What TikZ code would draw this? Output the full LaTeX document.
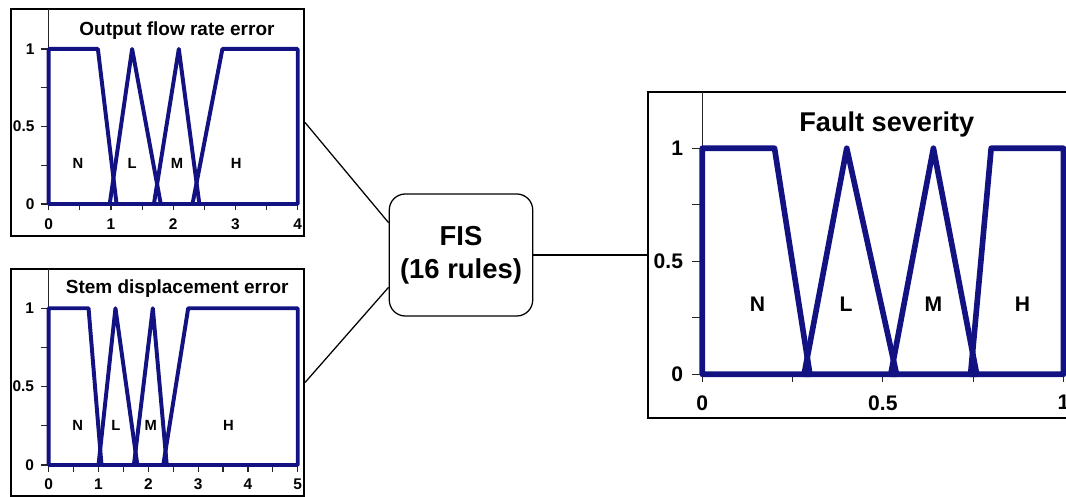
\documentclass[tikz,border=0pt]{standalone}
\usepackage{fontspec}
\setmainfont{Liberation Sans}
\definecolor{mfblue}{RGB}{18,18,130}
\tikzset{
  panel/.style={draw, line width=1.4pt, inner sep=0pt},
  axisline/.style={black!85, line width=0.8pt},
  mf/.style={mfblue, line width=2.8pt, line join=round},
  bigmf/.style={mfblue, line width=4pt, line join=round},
  ticktxt/.style={font=\fontsize{11}{13}\selectfont\bfseries, inner sep=0pt},
  mftxt/.style={font=\fontsize{10.5}{12}\selectfont\bfseries, inner sep=0pt},
  titletxt/.style={font=\fontsize{13.5}{16}\selectfont\bfseries, inner sep=0pt, anchor=base},
  bigticktxt/.style={font=\fontsize{15}{18}\selectfont\bfseries, inner sep=0pt},
  bigtitletxt/.style={font=\fontsize{19.3}{23}\selectfont\bfseries, inner sep=0pt, anchor=base},
  fisbox/.style={draw, line width=0.9pt, rounded corners=0.4cm, align=center,
    minimum width=3.585cm, minimum height=3.05cm,
    font=\fontsize{19.5}{23.7}\selectfont\bfseries},
  link/.style={line width=0.9pt},
}
\begin{document}
\begin{tikzpicture}[x=0.025cm, y=-0.025cm]
\useasboundingbox (0,0) rectangle (1066,497);
\clip (0,0) rectangle (1066,497);
\node[panel, minimum width=7.325cm, minimum height=5.675cm] (flowP) at (157.5,122.5) {};
\node[panel, minimum width=7.325cm, minimum height=5.675cm] (stemP) at (157.5,382.5) {};
\node[panel, minimum width=10.6cm, minimum height=8.165cm] (sevP) at (860.3,255) {};
\node[fisbox] (fis) at (461,255) {FIS\\(16 rules)};
\draw[link] (flowP.east) -- (fis.156);
\draw[link] (stemP.east) -- (fis.204);
\draw[link] (fis.east) -- (sevP.west);
\coordinate (flowO) at (48.7,204);
\coordinate (stemO) at (48.7,465);
\coordinate (sevO) at (702.3,374.3);
\begin{scope}[shift={(flowO)}, x=1.556cm, y=3.875cm]
\draw[axisline] ([yshift=-0.15cm]0,0) -- (0,1.258);
\draw[axisline] ([xshift=-0.2cm]0,0) -- (4,0);
\foreach \v in {0,0.25,...,1} \draw[axisline] (0,\v) -- ++(-0.2cm,0pt);
\foreach \u in {0,0.5,...,4} \draw[axisline] (\u,0) -- ++(0pt,-0.15cm);
\foreach \v/\t [count=\i] in {0/0,0.5/0.5,1/1} \node[ticktxt, anchor=east] (flowY\i) at ([xshift=-0.35cm]0,\v) {\t};
\foreach \u [count=\i] in {0,...,4} \node[ticktxt, anchor=north] (flowX\i) at ([yshift=-0.37cm]\u,0) {\u};
\draw[mf] (0,0) -- (0,1) -- (0.79,1) -- (1.09,0) -- cycle;
\draw[mf] (0.98,0) -- (1.34,1) -- (1.80,0) -- cycle;
\draw[mf] (1.69,0) -- (2.09,1) -- (2.42,0) -- cycle;
\draw[mf] (2.31,0) -- (2.79,1) -- (4,1) -- (4,0) -- cycle;
\foreach \u/\t in {0.47/N,1.34/L,2.06/M,3.01/H} \node[mftxt] (flow\t) at (\u,0.26) {\t};
\node[titletxt] (flowT) at (2.06,1.084) {Output flow rate error};
\end{scope}
\begin{scope}[shift={(stemO)}, x=1.245cm, y=3.9175cm]
\draw[axisline] ([yshift=-0.17cm]0,0) -- (0,1.251);
\draw[axisline] ([xshift=-0.2cm]0,0) -- (5,0);
\foreach \v in {0,0.25,...,1} \draw[axisline] (0,\v) -- ++(-0.2cm,0pt);
\foreach \u in {0,0.5,...,5} \draw[axisline] (\u,0) -- ++(0pt,-0.17cm);
\foreach \v/\t [count=\i] in {0/0,0.5/0.5,1/1} \node[ticktxt, anchor=east] (stemY\i) at ([xshift=-0.36cm]0,\v) {\t};
\foreach \u [count=\i] in {0,...,5} \node[ticktxt, anchor=north] (stemX\i) at ([yshift=-0.33cm]\u,0) {\u};
\draw[mf] (0,0) -- (0,1) -- (0.80,1) -- (1.06,0) -- cycle;
\draw[mf] (1.00,0) -- (1.34,1) -- (1.78,0) -- cycle;
\draw[mf] (1.71,0) -- (2.09,1) -- (2.37,0) -- cycle;
\draw[mf] (2.30,0) -- (2.80,1) -- (5,1) -- (5,0) -- cycle;
\foreach \u/\t in {0.58/N,1.35/L,2.05/M,3.61/H} \node[mftxt] (stem\t) at (\u,0.25) {\t};
\node[titletxt] (stemT) at (2.58,1.096) {Stem displacement error};
\end{scope}
\begin{scope}[shift={(sevO)}, x=9.025cm, y=5.65cm]
\draw[axisline] ([yshift=-0.19cm]0,0) -- (0,1.25);
\draw[axisline] ([xshift=-0.265cm]0,0) -- (1,0);
\foreach \v in {0,0.25,...,1} \draw[axisline] (0,\v) -- ++(-0.265cm,0pt);
\foreach \u in {0,0.25,...,1} \draw[axisline] (\u,0) -- ++(0pt,-0.19cm);
\foreach \v/\t [count=\i] in {0/0,0.5/0.5,1/1} \node[bigticktxt, anchor=east] (sevY\i) at ([xshift=-0.475cm]0,\v) {\t};
\foreach \u/\t [count=\i] in {0/0,0.5/0.5,1/1} \node[bigticktxt, anchor=north] (sevX\i) at ([yshift=-0.52cm]\u,0) {\t};
\draw[bigmf] (0,0) -- (0,1) -- (0.2,1) -- (0.298,0) -- cycle;
\draw[bigmf] (0.282,0) -- (0.4,1) -- (0.538,0) -- cycle;
\draw[bigmf] (0.522,0) -- (0.64,1) -- (0.76,0) -- cycle;
\draw[bigmf] (0.743,0) -- (0.8,1) -- (1,1) -- (1,0) -- cycle;
\foreach \u/\t in {0.153/N,0.398/L,0.64/M,0.887/H} \node[bigticktxt] (sev\t) at (\u,0.31) {\t};
\node[bigtitletxt] (sevT) at (0.511,1.073) {Fault severity};
\end{scope}
\end{tikzpicture}
\end{document}
